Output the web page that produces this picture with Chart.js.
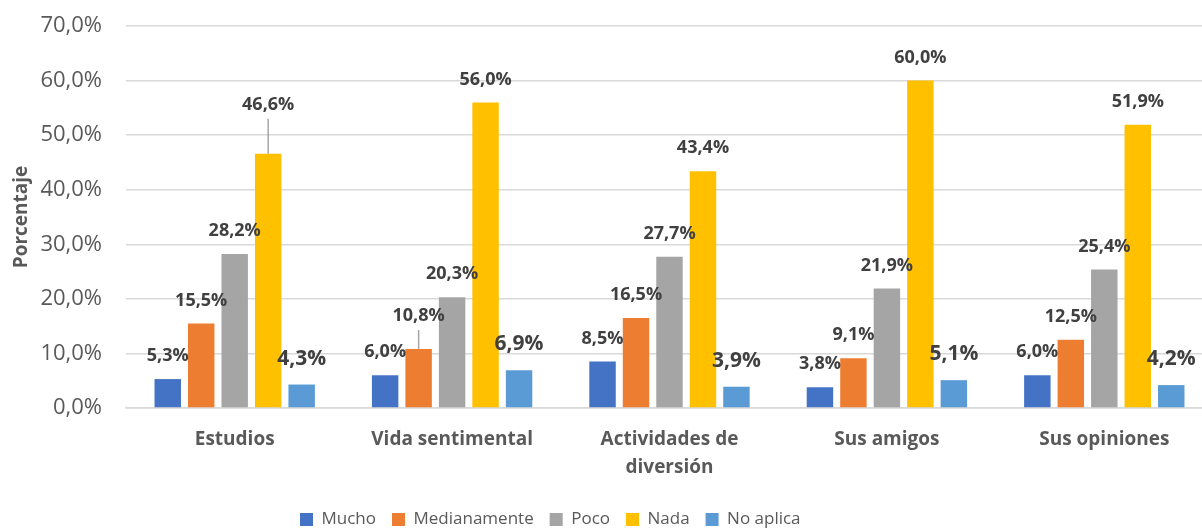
<!DOCTYPE html>
<html>
<head>
<meta charset="utf-8">
<script src="https://cdn.jsdelivr.net/npm/chart.js@4.4.1/dist/chart.umd.min.js"></script>
<style>
  html, body { margin: 0; padding: 0; background: #ffffff; overflow: hidden; }
  #wrap { width: 1202px; height: 529px; overflow: hidden; }
</style>
</head>
<body>
<div id="wrap"><canvas id="c" width="1213" height="529"></canvas></div>
<script>
const categories = ['Estudios', 'Vida sentimental', ['Actividades de', 'diversión'], 'Sus amigos', 'Sus opiniones'];
const seriesNames = ['Mucho', 'Medianamente', 'Poco', 'Nada', 'No aplica'];
const mucho = [5.3, 6.0, 8.5, 3.8, 6.0];
const medianamente = [15.5, 10.8, 16.5, 9.1, 12.5];
const poco = [28.2, 20.3, 27.7, 21.9, 25.4];
const nada = [46.6, 56.0, 43.4, 60.0, 51.9];
const noAplica = [4.3, 6.9, 3.9, 5.1, 4.2];
const yTicks = [0, 10, 20, 30, 40, 50, 60, 70];

const colors = ['#4472C4', '#ED7D31', '#A5A5A5', '#FFC000', '#5B9BD5'];
const seriesValues = [mucho, medianamente, poco, nada, noAplica];

const fmt = v => v.toFixed(1).replace('.', ',') + '%';

const labelPlugin = {
  id: 'barLabels',
  afterLayout(chart, args, opts) {
    // shift legend row so that it starts where the reference legend starts
    const lg = chart.legend;
    if (!lg || !lg.lineWidths) return;
    const pad = lg.options.labels.padding;
    const start = (lg.left + pad + lg.right - lg.lineWidths[0]) / 2;
    const d = opts.legendStart - start;
    lg.left += d;
    lg.right += d;
  },
  afterDatasetsDraw(chart, args, opts) {
    const ctx = chart.ctx;
    ctx.save();
    ctx.textAlign = 'center';
    ctx.textBaseline = 'middle';
    chart.data.datasets.forEach((ds, di) => {
      const meta = chart.getDatasetMeta(di);
      const big = di === 4;
      ctx.font = (big ? 'bold 21px' : 'bold 18px') + ' "Open Sans", sans-serif';
      meta.data.forEach((bar, i) => {
        const key = di + '-' + i;
        const lead = opts.leaders[key];
        const off = lead ? lead : (big ? 26 : 23);
        const ly = bar.y - off;
        if (lead) {
          ctx.strokeStyle = '#A6A6A6';
          ctx.lineWidth = 1.5;
          ctx.beginPath();
          ctx.moveTo(bar.x, ly + 14);
          ctx.lineTo(bar.x, bar.y);
          ctx.stroke();
        }
        ctx.fillStyle = '#404040';
        ctx.fillText(fmt(ds.data[i]), bar.x, ly);
      });
    });
    ctx.restore();
  }
};

new Chart(document.getElementById('c'), {
  type: 'bar',
  data: {
    labels: categories,
    datasets: seriesNames.map((n, i) => ({
      label: n,
      data: seriesValues[i],
      backgroundColor: colors[i],
      borderWidth: 0,
      categoryPercentage: 0.77,
      barPercentage: 0.79
    }))
  },
  options: {
    responsive: false,
    animation: false,
    layout: { padding: { top: 26, right: 0, left: 0, bottom: -9 } },
    plugins: {
      tooltip: { enabled: false },
      legend: {
        position: 'bottom',
        labels: {
          boxWidth: 13, boxHeight: 13, padding: 16,
          color: '#595959',
          font: { family: '"Open Sans", sans-serif', size: 17 }
        }
      },
      barLabels: { leaders: { '3-0': 49, '1-1': 33 }, legendStart: 300 }
    },
    scales: {
      y: {
        min: 0, max: 70,
        afterBuildTicks: s => { s.ticks = yTicks.map(v => ({ value: v })); },
        afterFit: s => { s.width = 126; s.paddingTop = 0; s.paddingBottom = 0; },
        ticks: {
          color: '#595959',
          padding: 24,
          font: { family: '"Open Sans", sans-serif', size: 22 },
          callback: v => fmt(v)
        },
        grid: { color: '#D9D9D9', lineWidth: 1.5, drawTicks: false },
        border: { display: false },
        title: {
          display: true, text: 'Porcentaje', color: '#595959',
          font: { family: '"Open Sans", sans-serif', size: 19, weight: 'bold' },
          padding: { top: 10.6, bottom: 0 }
        }
      },
      x: {
        afterFit: s => { s.height = 87; },
        grid: { display: false, drawTicks: false },
        border: { color: '#D9D9D9', width: 1.5 },
        ticks: {
          color: '#595959', padding: 18,
          font: { family: '"Open Sans", sans-serif', size: 19, weight: 'bold', lineHeight: 1.47 }
        }
      }
    }
  },
  plugins: [labelPlugin]
});
</script>
</body>
</html>
